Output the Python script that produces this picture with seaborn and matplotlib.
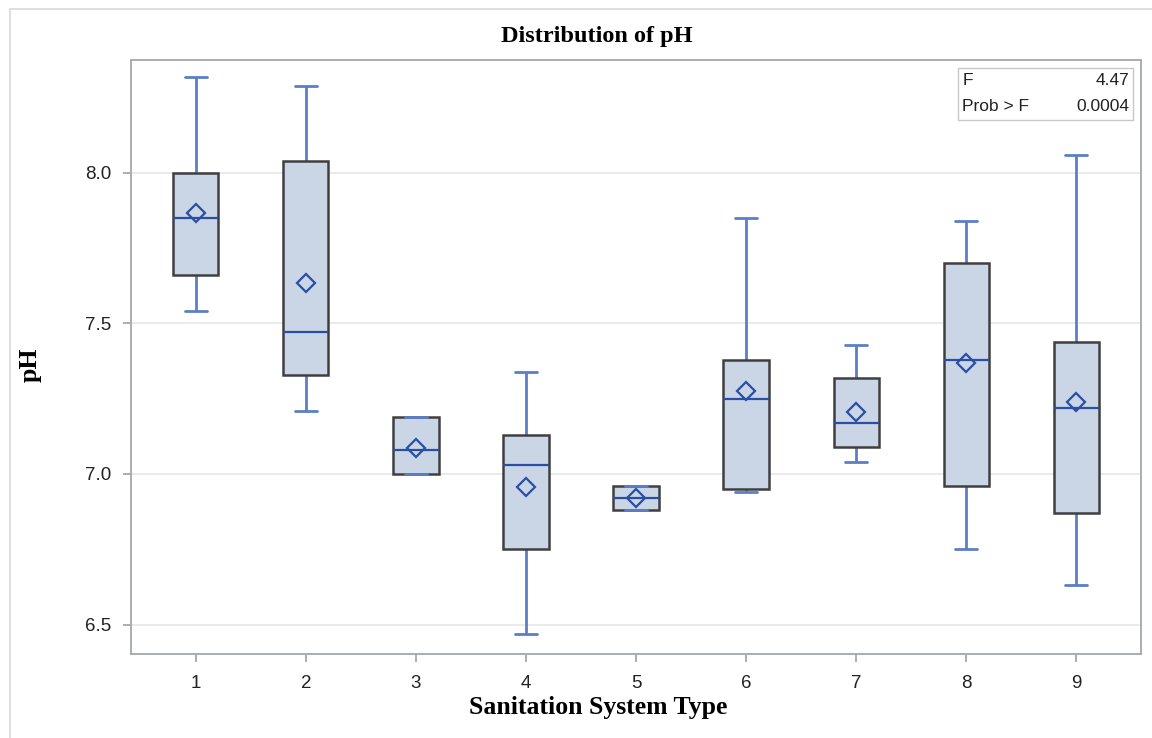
import numpy as np
import pandas as pd
import matplotlib
matplotlib.use("Agg")
import matplotlib.pyplot as plt
from matplotlib.patches import Rectangle
from matplotlib.lines import Line2D
import seaborn as sns

# Five-number summaries of pH per sanitation system type
types = ["1", "2", "3", "4", "5", "6", "7", "8", "9"]
ph_min = [7.54, 7.21, 7.00, 6.47, 6.88, 6.94, 7.04, 6.75, 6.63]
ph_q1 = [7.66, 7.33, 7.00, 6.75, 6.88, 6.95, 7.09, 6.96, 6.87]
ph_median = [7.85, 7.47, 7.08, 7.03, 6.92, 7.25, 7.17, 7.38, 7.22]
ph_q3 = [8.00, 8.04, 7.19, 7.13, 6.96, 7.38, 7.32, 7.70, 7.44]
ph_max = [8.32, 8.29, 7.19, 7.34, 6.96, 7.85, 7.43, 7.84, 8.06]
ph_mean = [7.867, 7.635, 7.086, 6.956, 6.919, 7.274, 7.205, 7.368, 7.240]

f_value = "4.47"
p_value = "0.0004"

# Each group's summary expands to five points whose quartiles reproduce the box
rows = []
for t, a, b, c, d, e in zip(types, ph_min, ph_q1, ph_median, ph_q3, ph_max):
    for v in (a, b, c, d, e):
        rows.append({"type": t, "pH": v})
df = pd.DataFrame(rows)
means = pd.DataFrame({"type": types, "pH": ph_mean})

sns.set_theme(style="white")
plt.rcParams["font.family"] = ["Liberation Sans", "DejaVu Sans"]

fill = "#cad5e6"
edge = "#3f3f3f"
whisk = "#5b7ec6"
med = "#2a4ea6"
axis_grey = "#a3a8ad"

fig = plt.figure(figsize=(11.52, 7.38), dpi=100)
ax = fig.add_axes([0.1137, 0.1138, 0.9905 - 0.1137, 0.9187 - 0.1138])

for y in (6.5, 7.0, 7.5, 8.0):
    ax.axhline(y, color="#e6e6e6", lw=1.2, zorder=0)

sns.boxplot(
    data=df, x="type", y="pH", order=types, ax=ax,
    whis=(0, 100), width=0.41, saturation=1, fliersize=0,
    boxprops=dict(facecolor=fill, edgecolor=edge, linewidth=1.8, zorder=2),
    whiskerprops=dict(color=whisk, linewidth=2.0, zorder=1),
    capprops=dict(color=whisk, linewidth=2.0, zorder=3),
    medianprops=dict(color=med, linewidth=1.6, zorder=3),
)

sns.pointplot(
    data=means, x="type", y="pH", order=types, ax=ax,
    errorbar=None, linestyle="none", marker="D",
    markersize=9, markerfacecolor="none", markeredgecolor=med,
    markeredgewidth=1.6, color=med, zorder=4,
)

ax.set_xlim(-0.59, 8.59)
ax.set_ylim(6.402, 8.375)
ax.set_yticks([6.5, 7.0, 7.5, 8.0])
ax.set_yticklabels(["6.5", "7.0", "7.5", "8.0"])
ax.set_xlabel("")
ax.set_ylabel("")

for s in ax.spines.values():
    s.set_color(axis_grey)
    s.set_linewidth(1.3)
ax.tick_params(axis="both", which="major", direction="out", length=6,
               width=1.3, color=axis_grey, labelsize=13.5, labelcolor="#222222",
               bottom=True, left=True)
ax.tick_params(axis="y", pad=8)
ax.tick_params(axis="x", pad=9)

# Statistics inset
ax.add_patch(Rectangle((0.819, 0.899), 0.992 - 0.819, 0.9865 - 0.899,
                       transform=ax.transAxes, facecolor="white",
                       edgecolor="#c8c8c8", lw=1.0, zorder=5))
for label, value, yy in (("F", f_value, 0.966), ("Prob > F", p_value, 0.921)):
    ax.text(0.823, yy, label, transform=ax.transAxes, fontsize=12.5,
            ha="left", va="center", color="#222222", zorder=6)
    ax.text(0.988, yy, value, transform=ax.transAxes, fontsize=12.5,
            ha="right", va="center", color="#222222", zorder=6)

serif = ["Liberation Serif", "DejaVu Serif"]
fig.text(0.518, 0.95, "Distribution of pH", ha="center", va="center",
         fontsize=17.5, fontweight="bold", family=serif, color="black")
fig.text(0.519, 0.042, "Sanitation System Type", ha="center", va="center",
         fontsize=18.5, fontweight="bold", family=serif, color="black")
fig.text(0.026, 0.505, "pH", ha="center", va="center", rotation=90,
         fontsize=18.5, fontweight="bold", family=serif, color="black")

# Outer graph frame
fig.add_artist(Line2D([0.0087, 0.0087], [0.0, 0.988], color="#d9d9d9", lw=1.2))
fig.add_artist(Line2D([0.0087, 1.0], [0.988, 0.988], color="#d9d9d9", lw=1.2))

fig.savefig("out.png", dpi=100, facecolor="white")
